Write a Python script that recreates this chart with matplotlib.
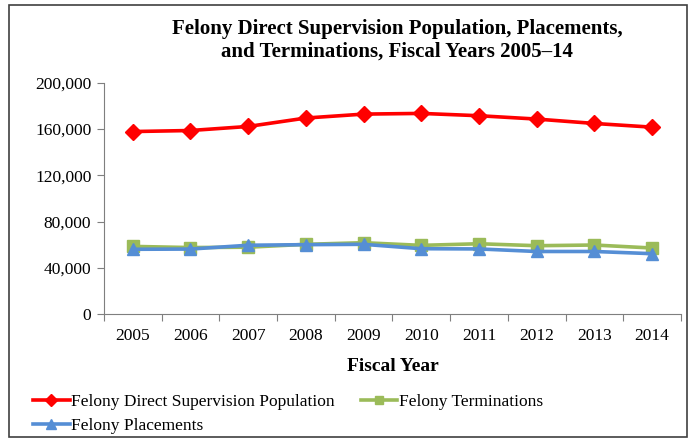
import numpy as np
import matplotlib.pyplot as plt
from matplotlib.patches import Rectangle

years = ["2005", "2006", "2007", "2008", "2009", "2010", "2011", "2012", "2013", "2014"]
population = [157900, 158800, 162300, 169600, 173000, 173600, 171600, 168700, 164900, 161700]
terminations = [58500, 57500, 57800, 60300, 61700, 59400, 60800, 59100, 59700, 57100]
placements = [56000, 56200, 59500, 60000, 60300, 56500, 56300, 54100, 54100, 52200]

plt.rcParams['font.family'] = ['Liberation Serif', 'DejaVu Serif']

fig = plt.figure(figsize=(6.97, 4.41), dpi=100)
ax = fig.add_axes([0.149, 0.288, 0.828, 0.524])

x = np.arange(len(years))
l1, = ax.plot(x, population, color='#FF0000', lw=2.6, marker='D', ms=8,
              label='Felony Direct Supervision Population')
l2, = ax.plot(x, terminations, color='#9BBB59', lw=2.6, marker='s', ms=8,
              label='Felony Terminations')
l3, = ax.plot(x, placements, color='#558ED5', lw=2.6, marker='^', ms=9,
              label='Felony Placements')

ax.set_xlim(-0.5, 9.5)
ax.set_ylim(0, 200000)
ax.set_yticks(np.arange(0, 200001, 40000))
ax.set_yticklabels(['{:,}'.format(v) for v in range(0, 200001, 40000)], fontsize=12.5)
ax.set_xticks(np.arange(-0.5, 10, 1))
ax.set_xticklabels([])
ax.set_xticks(x, minor=True)
ax.set_xticklabels(years, minor=True, fontsize=12.5)
ax.tick_params(axis='x', which='minor', length=0, pad=10)
ax.tick_params(axis='x', which='major', length=5, color='#7f7f7f')
ax.tick_params(axis='y', length=5, color='#7f7f7f', pad=4)
for s in ['top', 'right']:
    ax.spines[s].set_visible(False)
for s in ['left', 'bottom']:
    ax.spines[s].set_color('#7f7f7f')

ax.set_xlabel('Fiscal Year', fontsize=14, fontweight='bold', labelpad=10)
fig.text(0.57, 0.908, 'Felony Direct Supervision Population, Placements,\nand Terminations, Fiscal Years 2005\u201314',
         ha='center', va='center', fontsize=15, fontweight='bold', linespacing=1.2)

fig.legend(handles=[l1, l3, l2], ncol=2, loc='lower left', bbox_to_anchor=(0.025, -0.02),
           frameon=False, fontsize=12.5, handlelength=2.1, handletextpad=0.1,
           columnspacing=1.5, labelspacing=0.45, markerscale=0.75)

fig.patches.append(Rectangle((0.013, 0.01), 0.972, 0.978, transform=fig.transFigure,
                             fill=False, edgecolor='#404040', lw=1.2))

fig.savefig('out.png', dpi=100)
